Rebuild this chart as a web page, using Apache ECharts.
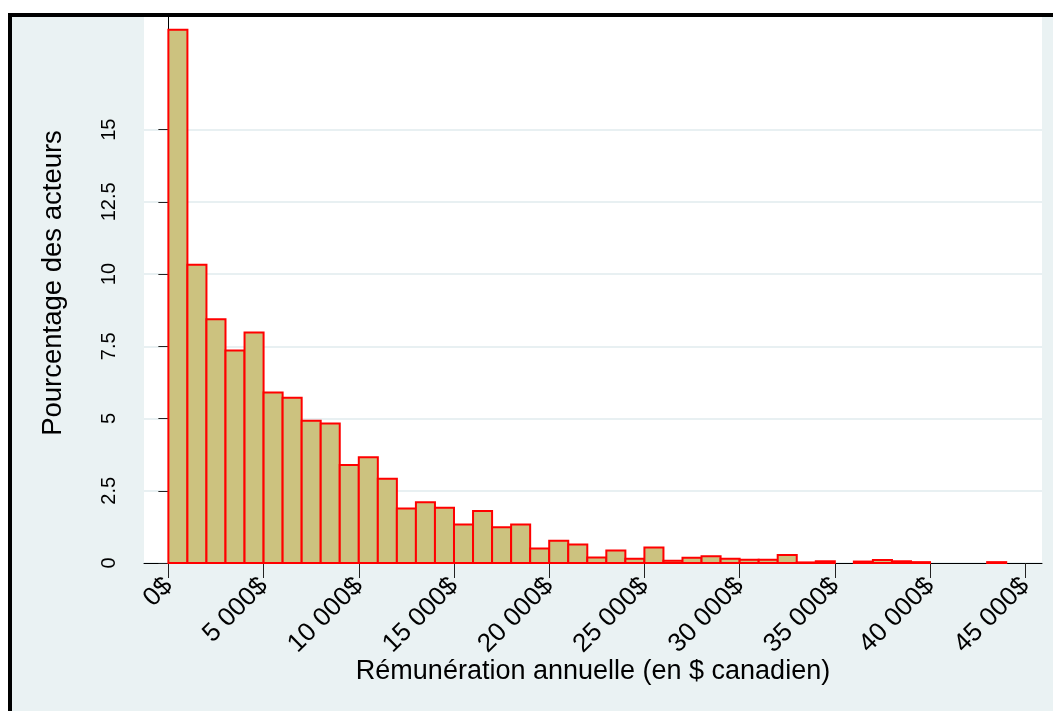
<!DOCTYPE html>
<html>
<head>
<meta charset="utf-8">
<script src="https://cdn.jsdelivr.net/npm/echarts@6/dist/echarts.min.js"></script>
<style>
html,body{margin:0;padding:0;background:#fff;}
#chart{width:1053px;height:711px;}
</style>
</head>
<body>
<div id="chart"></div>
<script>
// Bin width (in $) and bin start values
const binWidth = 1000;
const binStarts = [0,1000,2000,3000,4000,5000,6000,7000,8000,9000,10000,11000,12000,13000,14000,15000,16000,17000,18000,19000,20000,21000,22000,23000,24000,25000,26000,27000,28000,29000,30000,31000,32000,33000,34000,35000,36000,37000,38000,39000,40000,41000,42000,43000];
// Percentage of actors per bin
const percentValues = [18.46,10.32,8.44,7.36,7.98,5.90,5.72,4.92,4.83,3.39,3.66,2.92,1.89,2.10,1.91,1.33,1.80,1.24,1.33,0.50,0.77,0.64,0.19,0.43,0.15,0.54,0.08,0.18,0.23,0.15,0.11,0.11,0.28,0.02,0.06,0,0.05,0.10,0.06,0.03,0,0,0,0.03];
// Tick values
const xTicks = [0,5000,10000,15000,20000,25000,30000,35000,40000,45000];
const yTicks = [0,2.5,5,7.5,10,12.5,15];
const xTitle = 'Rémunération annuelle (en $ canadien)';
const yTitle = 'Pourcentage des acteurs';

function fmtMoney(v){
  const s = String(Math.round(v));
  return s.replace(/\B(?=(\d{3})+(?!\d))/g, ' ') + '$';
}

const data = binStarts.map((s,i)=>[s, s+binWidth, percentValues[i]]);

const chart = echarts.init(document.getElementById('chart'), null, {renderer:'canvas'});
const font = 'Liberation Sans, Arial, Helvetica, sans-serif';
chart.setOption({
  backgroundColor:'#ffffff',
  animation:false,
  graphic:[{
    type:'rect', z:-10, silent:true,
    shape:{x:10,y:15,width:1200,height:900},
    style:{fill:'#EAF2F3', stroke:'#000', lineWidth:4}
  }],
  grid:{left:144,right:11,top:17,bottom:148,show:true,backgroundColor:'#ffffff',borderWidth:0},
  xAxis:{
    type:'value', min:-1280, max:45880,
    name:xTitle, nameLocation:'middle', nameGap:95, nameMoveOverlap:false,
    nameTextStyle:{fontFamily:font,fontSize:27,color:'#000'},
    axisLine:{show:true,onZero:false,lineStyle:{color:'#000',width:1}},
    axisTick:{show:true,length:15,customValues:xTicks,lineStyle:{color:'#222',width:1}},
    axisLabel:{customValues:xTicks,rotate:45,margin:19,fontFamily:font,fontSize:26,color:'#000',formatter:fmtMoney},
    splitLine:{show:false}
  },
  yAxis:{
    type:'value', min:0, max:18.9,
    name:yTitle, nameLocation:'middle', nameGap:77, nameRotate:90, nameMoveOverlap:false,
    nameTextStyle:{fontFamily:font,fontSize:27.5,color:'#000',padding:[0,0,0,14]},
    axisLine:{show:true,lineStyle:{color:'#000',width:1}},
    axisTick:{show:true,length:10,customValues:yTicks,lineStyle:{color:'#222',width:1}},
    axisLabel:{customValues:yTicks,rotate:90,margin:25,fontFamily:font,fontSize:20,color:'#000',formatter:(v)=>String(v)},
    splitLine:{show:true,lineStyle:{color:'#E8F0F2',width:2}}
  },
  series:[{
    type:'custom',
    data:data,
    encode:{x:[0,1],y:2},
    renderItem:function(params, api){
      const v = api.value(2);
      if(!(v>0)) return null;
      const p0 = api.coord([api.value(0), 0]);
      const p1 = api.coord([api.value(1), v]);
      return {
        type:'rect',
        shape:{x:p0[0], y:p1[1], width:p1[0]-p0[0], height:p0[1]-p1[1]},
        style:{fill:'#CCC27F', stroke:'#FF0000', lineWidth:2}
      };
    }
  }]
});
</script>
</body>
</html>
